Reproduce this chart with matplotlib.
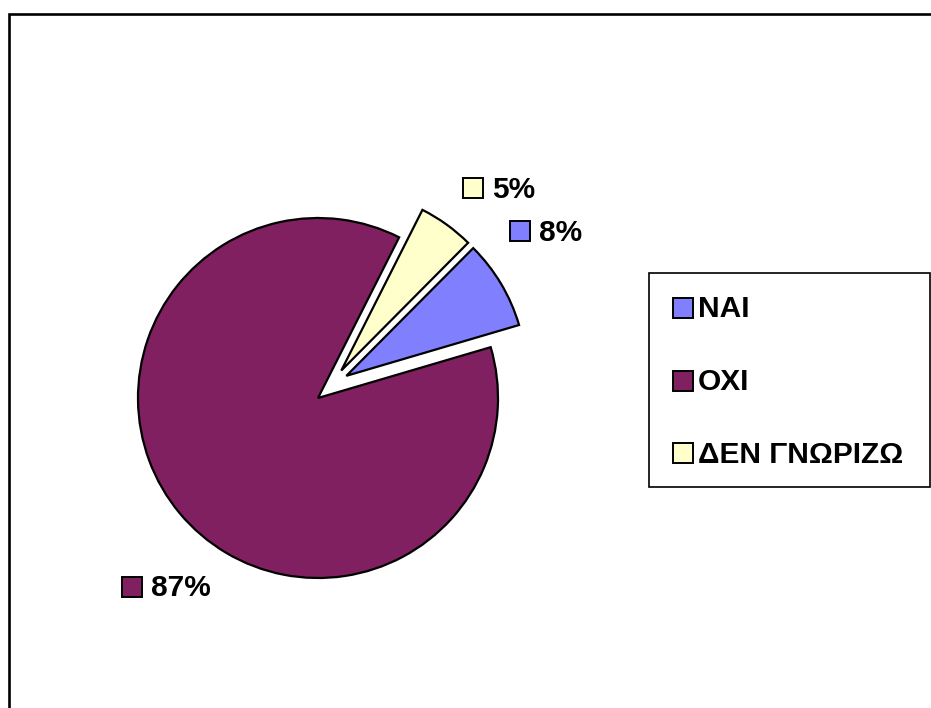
import numpy as np
import matplotlib
matplotlib.use("Agg")
import matplotlib.pyplot as plt
from matplotlib.patches import Rectangle

plt.rcParams['font.family'] = ['Liberation Sans', 'DejaVu Sans']

# Survey answers and their shares (%)
categories = ['ΝΑΙ', 'ΟΧΙ', 'ΔΕΝ ΓΝΩΡΙΖΩ']
values = [8, 87, 5]
colors = ['#8080FF', '#802060', '#FFFFCC']
exploded = [True, False, True]

W, H = 931, 708
fig = plt.figure(figsize=(W / 100, H / 100), dpi=100)


def fx(x):
    return x / W


def fy(y):
    return 1 - y / H


# Pie axes: centre at (318, 398) px, radius 180 px
R_PX = 180
CX, CY = 318, 398
LIM = 1.5
side = 2 * LIM * R_PX
ax = fig.add_axes([fx(CX - side / 2), fy(CY + side / 2), side / W, side / H])

START = 45.2
wedges, _ = ax.pie(values, colors=colors, startangle=START, counterclock=False,
                   radius=1, wedgeprops=dict(edgecolor='black', linewidth=1.6))

# Pull the exploded wedges outward, leaning toward their shared edge
for w, ex in zip(wedges, exploded):
    if ex:
        mid = (w.theta1 + w.theta2) / 2
        diff = (mid - START + 180) % 360 - 180
        ang = np.deg2rad(START + diff / 2)
        w.set_center((0.2 * np.cos(ang), 0.2 * np.sin(ang)))

ax.set_xlim(-LIM, LIM)
ax.set_ylim(-LIM, LIM)
ax.set_aspect('equal')
ax.axis('off')

SQ = 20  # swatch size, px


def swatch(xc, yc, color):
    fig.patches.append(Rectangle((fx(xc - SQ / 2), fy(yc + SQ / 2)), SQ / W, SQ / H,
                                 transform=fig.transFigure, facecolor=color,
                                 edgecolor='black', linewidth=1.4))


def boxed_text(xc, yc, baseline, color, text, gap, size):
    swatch(xc, yc, color)
    fig.text(fx(xc + SQ / 2 + gap), fy(baseline), text, fontsize=size,
             fontweight='bold', ha='left', va='baseline', color='black')


# Percentage labels next to the slices
label_pos = {
    'ΝΑΙ': (520, 231, 241),
    'ΟΧΙ': (132.3, 587.3, 596.5),
    'ΔΕΝ ΓΝΩΡΙΖΩ': (473, 188, 197.5),
}
for cat, val, col in zip(categories, values, colors):
    xc, yc, bl = label_pos[cat]
    boxed_text(xc, yc, bl, col, f'{val}%', gap=9, size=21.5)

# Legend frame and entries
fig.patches.append(Rectangle((fx(649), fy(487)), (930 - 649) / W, (487 - 273) / H,
                             transform=fig.transFigure, facecolor='white',
                             edgecolor='black', linewidth=1.2, zorder=0))
legend_rows = [(308.3, 316.7), (380.5, 389.7), (452.7, 462.7)]
for cat, col, (yc, bl) in zip(categories, colors, legend_rows):
    boxed_text(683, yc, bl, col, cat, gap=5, size=21.5)

# Outer chart-area border
fig.patches.append(Rectangle((fx(8.7), fy(730)), (960 - 8.7) / W, (730 - 13.7) / H,
                             transform=fig.transFigure, facecolor='none',
                             edgecolor='black', linewidth=1.9))

fig.savefig('out.png', dpi=100)
